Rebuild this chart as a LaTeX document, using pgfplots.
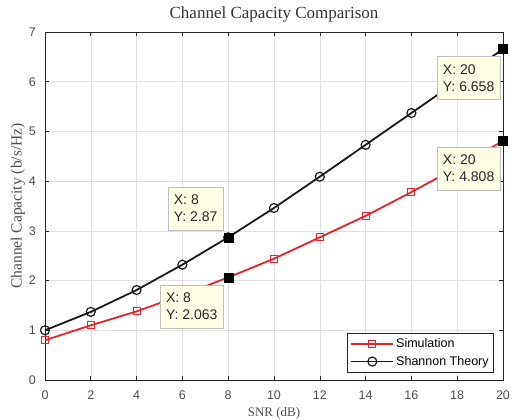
\documentclass[border=0pt]{standalone}
\usepackage{fontspec}
\setmainfont{Liberation Sans}
\newfontfamily\serifc{Liberation Serif}
\usepackage{pgfplots}
\pgfplotsset{compat=1.18}
\usetikzlibrary{calc}
\definecolor{simred}{HTML}{E8222A}
\definecolor{tipbg}{HTML}{FFFFE6}
\definecolor{tickgray}{HTML}{4D4D4D}
\tikzset{tip/.style={fill=tipbg, draw=black!25, align=left, font=\fontsize{14}{17}\selectfont,
    text=black!85, inner xsep=5.5pt, inner ysep=7pt, minimum height=43pt}}
\begin{document}
\begin{tikzpicture}
\useasboundingbox (-45pt,-40pt) rectangle (480pt,380pt);
\begin{axis}[
  scale only axis, width=458pt, height=348pt,
  xmin=0, xmax=20, ymin=0, ymax=7,
  xtick={0,2,...,20}, ytick={0,1,...,7},
  clip=false,
  grid=major, grid style={draw=black!12, line width=0.5pt},
  axis line style={draw=black!85, line width=0.8pt},
  tick align=inside, tick style={draw=black!85, line width=0.6pt},
  major tick length=4pt,
  ticklabel style={font=\fontsize{12.5}{15}\selectfont, text=tickgray},
  /pgf/number format/assume math mode=true,
  xticklabel style={anchor=base, yshift=-20pt},
  yticklabel style={anchor=east, inner sep=0pt, xshift=-9pt},
  title={Channel Capacity Comparison},
  title style={font=\serifc\fontsize{17}{20}\selectfont, text=black!80, at={(axis description cs:0.5,1)}, anchor=base, yshift=8pt},
  xlabel={SNR (dB)},
  ylabel={Channel Capacity (b/s/Hz)},
  xlabel style={font=\serifc\fontsize{13}{15}\selectfont, text=tickgray, at={(axis description cs:0.5,0)}, anchor=base, yshift=-37pt},
  ylabel style={font=\serifc\fontsize{15.5}{17}\selectfont, text=tickgray, at={($(axis description cs:0,0.5)+(-27pt,0pt)$)}, anchor=center},
  legend style={at={(axis description cs:0.98,0.023)}, anchor=south east,
    font=\fontsize{12.5}{15}\selectfont, draw=black!85, inner xsep=3pt, inner ysep=3pt,
    row sep=3pt, cells={anchor=west}},
  legend image code/.code={\draw[mark repeat=2,mark phase=2] plot coordinates {(0pt,0pt) (21pt,0pt) (42pt,0pt)};},
]
\addplot[simred, line width=1.8pt, mark=square, mark size=3.5pt, mark options={line width=1.1pt, solid}]
  coordinates {(0,0.80) (2,1.10) (4,1.38) (6,1.71) (8,2.063) (10,2.44) (12,2.87) (14,3.30) (16,3.78) (18,4.28) (20,4.808)};
\addlegendentry{Simulation}
\addplot[black!90, line width=1.8pt, mark=o, mark size=4.5pt, mark options={line width=1.2pt, solid}]
  coordinates {(0,1.00) (2,1.37) (4,1.81) (6,2.32) (8,2.87) (10,3.46) (12,4.09) (14,4.73) (16,5.37) (18,6.01) (20,6.658)};
\addlegendentry{Shannon Theory}
\addplot[forget plot, only marks, mark=square*, mark size=4.5pt, black]
  coordinates {(8,2.87) (8,2.063) (20,6.658) (20,4.808)};
\coordinate (t1) at (axis cs:8,2.87);
\coordinate (t2) at (axis cs:8,2.063);
\coordinate (t3) at (axis cs:20,6.658);
\coordinate (t4) at (axis cs:20,4.808);
\end{axis}
\node[tip, anchor=south east] at ($(t1)+(-5pt,7pt)$) {X: 8\\Y: 2.87};
\node[tip, anchor=north east] at ($(t2)+(-5pt,-7.5pt)$) {X: 8\\Y: 2.063};
\node[tip, anchor=north east] at ($(t3)+(-3pt,-7pt)$) {X: 20\\Y: 6.658};
\node[tip, anchor=north east] at ($(t4)+(-3pt,-6pt)$) {X: 20\\Y: 4.808};
\end{tikzpicture}
\end{document}
